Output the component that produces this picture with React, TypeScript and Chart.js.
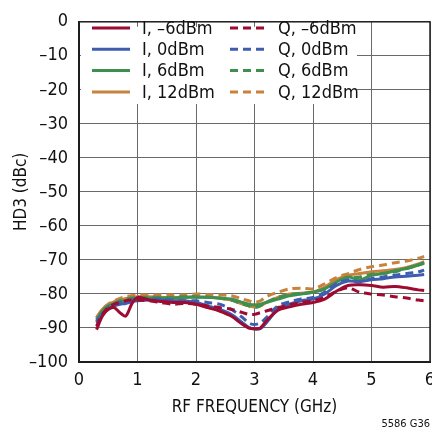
import React, { useEffect, useRef } from "react";
import { Chart, registerables } from "chart.js";

Chart.register(...registerables);

// ---- data ----
const FREQ = [0.3, 0.4, 0.5, 0.6, 0.7, 0.8, 0.9, 1.0, 1.2, 1.4, 1.6, 1.8, 2.0, 2.2, 2.4, 2.6, 2.8, 2.9, 3.0, 3.1, 3.2, 3.4, 3.6, 3.8, 4.0, 4.2, 4.4, 4.6, 4.8, 5.0, 5.2, 5.4, 5.6, 5.8, 5.9];

const I_M6 = [-90.5, -86.5, -84.5, -84, -85.5, -86.5, -83, -81, -81.8, -82.2, -82.5, -82.5, -83, -84, -85, -86.5, -89, -90, -90.2, -90, -88, -84.8, -83.8, -83, -82.5, -81.5, -79.2, -77.5, -77.3, -77.5, -78, -77.8, -78.2, -78.8, -79];
const Q_M6 = [-89.5, -86, -84, -83, -82.5, -82, -81.8, -81.8, -82, -82.5, -83, -82.8, -83, -83.5, -84, -84.5, -85.5, -86, -86, -85.5, -85, -84, -83.2, -82.5, -82, -81, -79.2, -78.2, -79.5, -80, -80.3, -80.8, -81.2, -81.8, -82];
const I_0 = [-88, -86, -84.5, -83.5, -83, -82.8, -82.3, -82, -81.8, -81.8, -82, -82, -82.5, -83.5, -84.5, -86, -88.5, -89.8, -90.3, -90.2, -88.5, -84.5, -83, -82, -81.5, -80, -77.5, -76.2, -76.3, -75.8, -75.5, -75, -74.8, -74.5, -74.3];
const Q_0 = [-88.5, -86, -84, -83, -82.5, -82, -81.8, -81.5, -81.5, -81.5, -81.8, -82, -82, -82.5, -83, -84.5, -87, -88.5, -89, -88.5, -87, -83.5, -82.3, -81.5, -81, -79.5, -77, -76, -76.5, -75.5, -75, -74.5, -74, -73.5, -73];
const I_6 = [-87.5, -85, -83.5, -82.8, -82.3, -82, -81.6, -81.3, -81.2, -81.2, -81.2, -81, -81, -81, -81.2, -81.5, -82.5, -83, -83.2, -83, -82.5, -81.5, -80.5, -80, -79.5, -78.5, -76.5, -75, -75.8, -74.5, -74, -73.2, -72.5, -71.5, -70.8];
const Q_6 = [-88, -85.5, -83.8, -82.8, -82, -81.5, -81.2, -81, -81, -81, -81, -80.8, -80.8, -81, -81.2, -81.8, -83, -83.5, -84, -83.5, -82.5, -81, -80.2, -79.8, -79.5, -78.5, -77, -75.5, -75, -74.2, -74, -73.5, -72.5, -71.5, -71];
const I_12 = [-87, -84.5, -83, -82.3, -81.8, -81.3, -81, -80.8, -80.8, -81, -81, -81, -80.8, -81, -81.3, -81.8, -83, -83.5, -83.8, -83.5, -82.5, -81, -80, -79.8, -79.5, -78, -75.8, -74.5, -74, -73.5, -73.2, -72.8, -72.2, -71.2, -70.5];
const Q_12 = [-87, -84.5, -83, -82, -81.3, -80.8, -80.5, -80.3, -80.3, -80.3, -80.3, -80.3, -80, -80.2, -80.3, -80.5, -81.5, -82, -82.5, -82, -80.8, -79.5, -78.5, -78.3, -78.5, -77, -75.2, -74, -72.8, -72, -71.5, -70.8, -70.3, -69.5, -69];

const SERIES_LABELS = ["I, –6dBm", "Q, –6dBm", "I, 0dBm", "Q, 0dBm", "I, 6dBm", "Q, 6dBm", "I, 12dBm", "Q, 12dBm"];
const SERIES_VALUES = [I_M6, Q_M6, I_0, Q_0, I_6, Q_6, I_12, Q_12];
const SERIES_COLORS = ["#9e0b31", "#9e0b31", "#3e5db0", "#3e5db0", "#3f8f4f", "#3f8f4f", "#c8823e", "#c8823e"];
const SERIES_DASHED = [false, true, false, true, false, true, false, true];

const X_MIN = 0;
const X_MAX = 6;
const Y_MIN = -100;
const Y_MAX = 0;
const X_TITLE = "RF FREQUENCY (GHz)";
const Y_TITLE = "HD3 (dBc)";
const NOTE = "5586 G36";

const FONT = '"Liberation Sans Narrow", "DejaVu Sans Condensed", "Roboto Condensed", Arial, sans-serif';
const DASH = [8, 5];

const fmt = (v: number) => (v < 0 ? "\u2013" + Math.abs(v) : String(v));

const framePlugin = {
  id: "frame",
  beforeDatasetsDraw(chart: any) {
    const { ctx, chartArea: a } = chart;
    ctx.save();
    ctx.strokeStyle = "#222";
    ctx.lineWidth = 1.5;
    ctx.strokeRect(a.left, a.top, a.right - a.left, a.bottom - a.top);
    ctx.restore();
  },
};

const legendPlugin = {
  id: "boxLegend",
  afterDraw(chart: any) {
    const { ctx, chartArea: a } = chart;
    ctx.save();
    ctx.fillStyle = "#fff";
    ctx.fillRect(a.left + 2, a.top + 5, 357 - a.left - 2, 104 - a.top - 5);
    ctx.font = "18px " + FONT;
    ctx.textBaseline = "middle";
    ctx.textAlign = "left";
    chart.data.datasets.forEach((ds: any, i: number) => {
      const col = i % 2;
      const row = Math.floor(i / 2);
      const y = 28 + row * 21.3;
      const x0 = col ? 230 : 92;
      const x1 = col ? 266 : 130;
      const tx = col ? 278 : 142;
      ctx.strokeStyle = ds.borderColor;
      ctx.lineWidth = 3;
      ctx.setLineDash(col ? DASH : []);
      ctx.beginPath();
      ctx.moveTo(x0, y);
      ctx.lineTo(x1, y);
      ctx.stroke();
      ctx.setLineDash([]);
      ctx.fillStyle = "#111";
      ctx.fillText(ds.label, tx, y + 1);
    });
    ctx.font = "11px " + FONT;
    ctx.textAlign = "right";
    ctx.textBaseline = "alphabetic";
    ctx.fillStyle = "#111";
    ctx.fillText(NOTE, 430, 427);
    ctx.restore();
  },
};

export default function App() {
  const ref = useRef<HTMLCanvasElement>(null);

  useEffect(() => {
    if (!ref.current) return;
    const chart = new Chart(ref.current, {
      type: "line",
      data: {
        datasets: SERIES_LABELS.map((label, i) => ({
          label,
          data: FREQ.map((x, j) => ({ x, y: SERIES_VALUES[i][j] })),
          borderColor: SERIES_COLORS[i],
          backgroundColor: SERIES_COLORS[i],
          borderWidth: 3,
          borderDash: SERIES_DASHED[i] ? DASH : [],
          pointRadius: 0,
          tension: 0.3,
          fill: false,
        })),
      },
      options: {
        animation: false,
        responsive: false,
        devicePixelRatio: 1,
        layout: { padding: { left: 0, right: 14, top: 10, bottom: 0 } },
        plugins: { legend: { display: false }, tooltip: { enabled: false } },
        scales: {
          x: {
            type: "linear",
            min: X_MIN,
            max: X_MAX,
            ticks: { stepSize: 1, color: "#111", font: { family: FONT, size: 18 }, padding: 8, maxRotation: 0, callback: (v: any) => fmt(Number(v)) },
            grid: { color: "#6a6a6a", lineWidth: 1, drawTicks: false },
            border: { display: true, color: "#111", width: 2 },
            title: { display: true, text: X_TITLE, color: "#111", font: { family: FONT, size: 17 }, padding: { top: 0, bottom: 14 } },
            afterFit: (s: any) => { s.height = 70; },
          },
          y: {
            min: Y_MIN,
            max: Y_MAX,
            ticks: { stepSize: 10, color: "#111", font: { family: FONT, size: 18 }, padding: 11, callback: (v: any) => fmt(Number(v)) },
            grid: { color: "#6a6a6a", lineWidth: 1, drawTicks: false },
            border: { display: true, color: "#111", width: 2 },
            title: { display: true, text: Y_TITLE, color: "#111", font: { family: FONT, size: 17 }, padding: { top: 11, bottom: 0 } },
            afterFit: (s: any) => { s.width = 79; },
          },
        },
      },
      plugins: [framePlugin, legendPlugin],
    } as any);
    return () => chart.destroy();
  }, []);

  return (
    <div style={{ position: "fixed", left: 0, top: 0, width: 432, height: 432, overflow: "hidden", background: "#fff" }}>
      <canvas ref={ref} width={444} height={432} style={{ display: "block", width: 444, height: 432 }} />
    </div>
  );
}
